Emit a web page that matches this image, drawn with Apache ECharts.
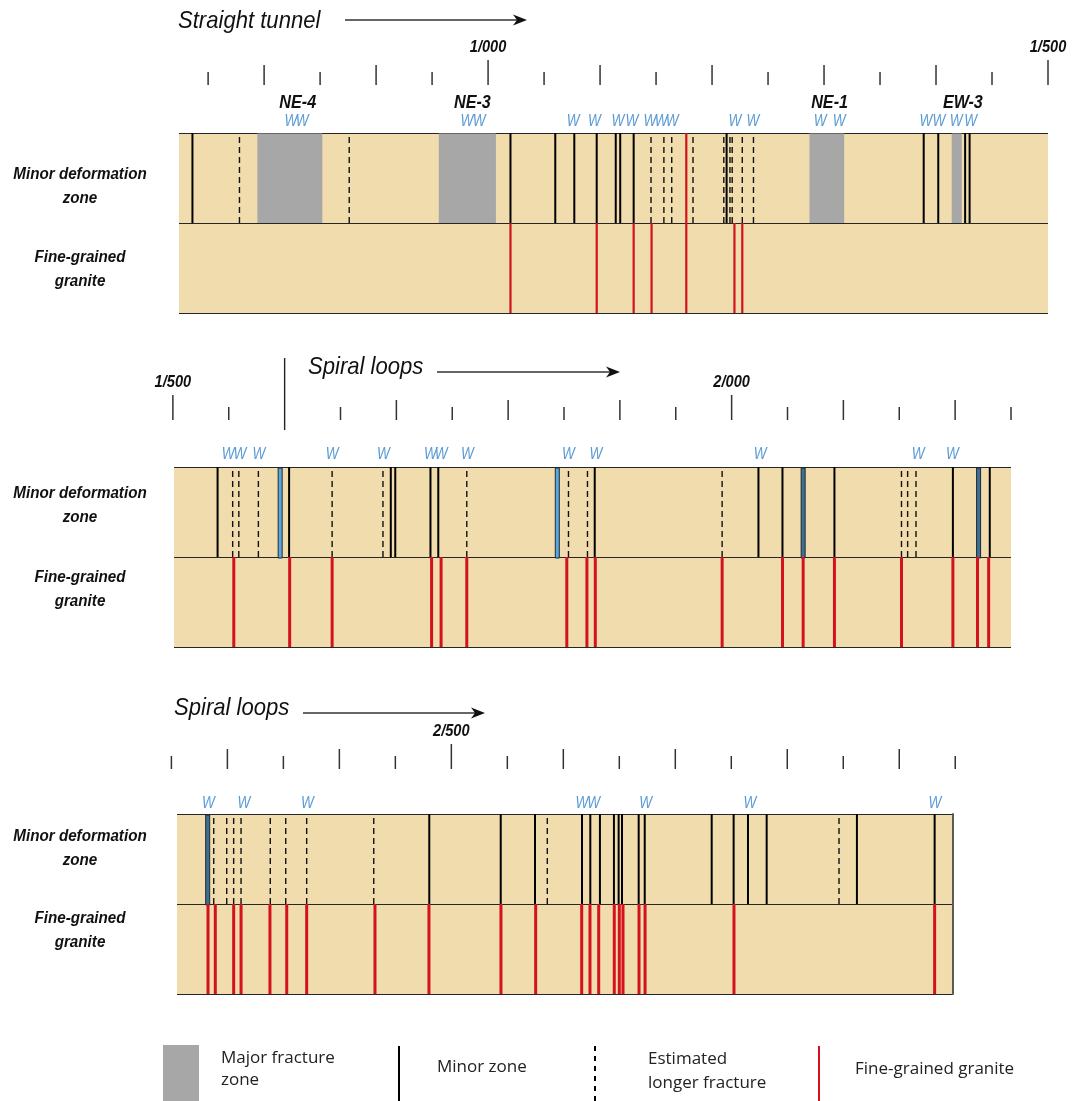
<!DOCTYPE html>
<html><head><meta charset="utf-8">
<script src="https://cdn.jsdelivr.net/npm/echarts@6/dist/echarts.min.js"></script>
<style>html,body{margin:0;padding:0;background:#fff}#c{width:1072px;height:1101px}</style>
</head><body><div id="c"></div>
<script>
// ---------- Panel 1 : Straight tunnel (chainage, m) ----------
const p1Range = [724, 1500];
const p1Ticks = [750, 800, 850, 900, 950, 1000, 1050, 1100, 1150, 1200, 1250, 1300, 1350, 1400, 1450, 1500];
const p1TickLabels = [1000, 1500];
const p1MajorNames = ['NE-4', 'NE-3', 'NE-1', 'EW-3'];
const p1MajorFrom = [794, 956, 1287, 1414];
const p1MajorTo = [852, 1007, 1318, 1423];
const p1MajorLabelAt = [830, 986, 1305, 1424];
const p1Minor = [736, 1020, 1060, 1077, 1097, 1114, 1118, 1130, 1213, 1389, 1402, 1426, 1430];
const p1Estimated = [778, 876, 1145.5, 1157, 1164, 1183, 1210.5, 1216, 1218, 1227, 1237];
const p1Granite = [1020, 1097, 1130, 1146, 1220, 1227];
const p1GraniteFull = [1177];
const p1BarsLight = [];
const p1BarsDark = [];
const p1W = [824, 834, 981, 992, 1076, 1095, 1116, 1128.5, 1144.5, 1154.5, 1164.5, 1220.5, 1236.5, 1296.5, 1313.5, 1391, 1402.5, 1418, 1431];
const p1Spiral = [];

// ---------- Panel 2 : Spiral loops ----------
const p2Range = [1501, 2250];
const p2Ticks = [1500, 1550, 1600, 1650, 1700, 1750, 1800, 1850, 1900, 1950, 2000, 2050, 2100, 2150, 2200, 2250];
const p2TickLabels = [1500, 2000];
const p2Spiral = [1600];
const p2Minor = [1540, 1604, 1695, 1699, 1730.5, 1737.5, 1877.5, 2024, 2045.5, 2092, 2198, 2231];
const p2Estimated = [1553.5, 1559, 1576.5, 1642.5, 1688, 1763, 1854, 1871, 1991.5, 2152, 2157.5, 2165];
const p2BarsLight = [1596, 1844];
const p2BarsDark = [2064, 2221];
const p2Granite = [1554.5, 1604.5, 1642.5, 1731.5, 1740, 1763, 1852.5, 1870.5, 1878, 1991.5, 2045.5, 2064, 2092, 2152, 2198, 2220, 2230];
const p2W = [1549.5, 1560, 1577, 1642.5, 1688.5, 1730.5, 1740, 1763.5, 1854, 1878.5, 2025.5, 2167, 2197.5];

// ---------- Panel 3 : Spiral loops ----------
const p3Range = [2255, 2948];
const p3Ticks = [2250, 2300, 2350, 2400, 2450, 2500, 2550, 2600, 2650, 2700, 2750, 2800, 2850, 2900, 2950];
const p3TickLabels = [2500];
const p3Spiral = [];
const p3Minor = [2480.3, 2544.1, 2574.7, 2616.7, 2624.1, 2632.7, 2645.2, 2649.4, 2652.4, 2667.3, 2672.7, 2732.5, 2752.1, 2764.9, 2781.6, 2862.2, 2931.6];
const p3Estimated = [2287.8, 2299.4, 2305.6, 2312.2, 2338.3, 2352.1, 2370.8, 2430.7, 2585.7, 2846.2];
const p3BarsLight = [];
const p3BarsDark = [2282.4];
const p3Granite = [2282.7, 2289.2, 2305.6, 2312.2, 2338, 2353, 2370.8, 2431.8, 2480, 2544.3, 2575.3, 2616.4, 2623.8, 2631.6, 2645.5, 2650, 2653.3, 2667.6, 2673, 2752.4, 2931.6];
const p3W = [2283, 2314.8, 2371.4, 2616.7, 2627, 2673.6, 2766.7, 2931.9];

// ---------- layout & styles ----------
const BG = '#F1DCAD';
const FONT = '"Liberation Sans", Arial, sans-serif';
const panels = [
  { grid: {left: 179, top: 133, width: 869, height: 180}, range: p1Range, ticks: p1Ticks, tickLabels: p1TickLabels, spiral: p1Spiral, tickOff: 48, wOff: 11,
    majorNames: p1MajorNames, majorFrom: p1MajorFrom, majorTo: p1MajorTo, majorLabelAt: p1MajorLabelAt,
    minor: p1Minor, est: p1Estimated, granite: p1Granite, graniteFull: p1GraniteFull, barsL: p1BarsLight, barsD: p1BarsDark, w: p1W, redW: 2.2, rightBorder: false },
  { grid: {left: 174, top: 467, width: 837, height: 180}, range: p2Range, ticks: p2Ticks, tickLabels: p2TickLabels, spiral: p2Spiral, tickOff: 47, wOff: 12,
    majorNames: [], majorFrom: [], majorTo: [], majorLabelAt: [],
    minor: p2Minor, est: p2Estimated, granite: p2Granite, graniteFull: [], barsL: p2BarsLight, barsD: p2BarsDark, w: p2W, redW: 3, rightBorder: false },
  { grid: {left: 177, top: 814, width: 776, height: 180}, range: p3Range, ticks: p3Ticks, tickLabels: p3TickLabels, spiral: p3Spiral, tickOff: 45, wOff: 10,
    majorNames: [], majorFrom: [], majorTo: [], majorLabelAt: [],
    minor: p3Minor, est: p3Estimated, granite: p3Granite, graniteFull: [], barsL: p3BarsLight, barsD: p3BarsDark, w: p3W, redW: 3, rightBorder: true }
];

function fmtChainage(v) { return Math.floor(v / 1000) + '/' + String(v % 1000).padStart(3, '0'); }

function base(gi, vals, z) {
  return { type: 'custom', xAxisIndex: gi, yAxisIndex: gi, clip: false, silent: true, z: z,
    data: vals.map(v => [v, 0]), encode: {x: 0, y: 1} };
}
function vLines(gi, vals, y0, y1, style, z) {
  const s = base(gi, vals, z);
  s.renderItem = (params, api) => {
    const x = api.value(0);
    const a = api.coord([x, y0]), b = api.coord([x, y1]);
    return { type: 'line', shape: {x1: a[0], y1: a[1], x2: b[0], y2: b[1]}, style: style };
  };
  return s;
}
function bars(gi, vals, fill, z) {
  const s = base(gi, vals, z);
  s.renderItem = (params, api) => {
    const a = api.coord([api.value(0), 2]), b = api.coord([api.value(0), 1]);
    return { type: 'rect', shape: {x: a[0] - 2, y: a[1] + 1, width: 4, height: b[1] - a[1]},
      style: {fill: fill, stroke: '#1d2a36', lineWidth: 1} };
  };
  return s;
}

const grids = [], xAxes = [], yAxes = [], series = [];
panels.forEach((p, gi) => {
  grids.push(Object.assign({show: true, backgroundColor: BG, borderWidth: 0}, p.grid));
  xAxes.push({type: 'value', gridIndex: gi, min: p.range[0], max: p.range[1], show: false});
  yAxes.push({type: 'value', gridIndex: gi, min: 0, max: 2, interval: 1, position: 'right',
    axisLabel: {show: false}, axisTick: {show: false},
    axisLine: {show: p.rightBorder, lineStyle: {color: '#5a5a5a', width: 2}},
    splitLine: {show: true, lineStyle: {color: '#262626', width: 1.2}}});

  // major fracture zones (grey blocks) + names
  const mz = base(gi, p.majorFrom, 2);
  mz.renderItem = (params, api) => {
    const i = params.dataIndex;
    const a = api.coord([p.majorFrom[i], 2]), b = api.coord([p.majorTo[i], 1]);
    return { type: 'rect', shape: {x: a[0], y: a[1] + 0.6, width: b[0] - a[0], height: b[1] - a[1] - 0.6}, style: {fill: '#A7A7A7'} };
  };
  series.push(mz);
  const ml = base(gi, p.majorLabelAt, 5);
  ml.renderItem = (params, api) => {
    const a = api.coord([api.value(0), 2]);
    return { type: 'text', x: a[0], y: a[1] - 30, scaleX: 0.9,
      style: {text: p.majorNames[params.dataIndex], fill: '#111', font: 'italic bold 18px ' + FONT, align: 'center', verticalAlign: 'middle'} };
  };
  series.push(ml);

  // estimated longer fractures (dashed), minor zones (solid)
  series.push(vLines(gi, p.est, 1, 2, {stroke: '#111', lineWidth: 1.4, lineDash: [6, 4]}, 3));
  series.push(vLines(gi, p.minor, 1, 2, {stroke: '#000', lineWidth: 2}, 4));
  series.push(bars(gi, p.barsL, '#5BA7DD', 4));
  series.push(bars(gi, p.barsD, '#3F6F93', 4));
  // fine-grained granite (red)
  series.push(vLines(gi, p.granite, 0, 1, {stroke: '#D3121E', lineWidth: p.redW}, 4));
  series.push(vLines(gi, p.graniteFull, 0, 2, {stroke: '#D3121E', lineWidth: p.redW}, 4));

  // W markers
  const ws = base(gi, p.w, 5);
  ws.renderItem = (params, api) => {
    const a = api.coord([api.value(0), 2]);
    return { type: 'text', x: a[0], y: a[1] - p.wOff, scaleX: 0.85,
      style: {text: 'W', fill: '#5B9BD5', font: 'italic 16px ' + FONT, align: 'center', verticalAlign: 'middle'} };
  };
  series.push(ws);

  // chainage ticks
  const tk = base(gi, p.ticks, 5);
  tk.renderItem = (params, api) => {
    const v = api.value(0);
    const a = api.coord([v, 2]);
    const yb = a[1] - p.tickOff;
    if (p.spiral.indexOf(v) >= 0) {
      return { type: 'line', shape: {x1: a[0], y1: yb + 10, x2: a[0], y2: yb - 62}, style: {stroke: '#222', lineWidth: 1.4} };
    }
    const len = v % 500 === 0 ? 25 : (v % 100 === 0 ? 20 : 13);
    return { type: 'line', shape: {x1: a[0], y1: yb, x2: a[0], y2: yb - len}, style: {stroke: '#333', lineWidth: 1.5} };
  };
  series.push(tk);
  const tl = base(gi, p.tickLabels, 5);
  tl.renderItem = (params, api) => {
    const v = api.value(0);
    const a = api.coord([v, 2]);
    return { type: 'text', x: a[0], y: a[1] - p.tickOff - 25 - 13, scaleX: 0.86,
      style: {text: fmtChainage(v), fill: '#111', font: 'italic bold 17px ' + FONT, align: 'center', verticalAlign: 'middle'} };
  };
  series.push(tl);
});

// ---------- decorations: titles, arrows, row names, legend ----------
function title(t, x, y) { return {type: 'text', x: x, y: y, scaleX: 0.92, style: {text: t, fill: '#111', font: 'italic 24px ' + FONT, align: 'left', verticalAlign: 'middle'}}; }
function arrow(x1, x2, y) {
  return [
    {type: 'line', shape: {x1: x1, y1: y, x2: x2 - 6, y2: y}, style: {stroke: '#333', lineWidth: 1.3}},
    {type: 'polygon', shape: {points: [[x2 - 14, y - 5.5], [x2, y], [x2 - 14, y + 5.5], [x2 - 10, y]]}, style: {fill: '#111'}}
  ];
}
function rowName(t, y) { return {type: 'text', x: 80, y: y, scaleX: 0.95, style: {text: t, fill: '#111', font: 'italic bold 16px ' + FONT, align: 'center', verticalAlign: 'middle', lineHeight: 24}}; }
const LF = '17px "Open Sans", "Noto Sans", sans-serif';
function legText(t, x, y, lh) { return {type: 'text', x: x, y: y, style: {text: t, fill: '#222', font: LF, align: 'left', verticalAlign: 'middle', lineHeight: lh || 22}}; }

const graphics = [].concat(
  [title('Straight tunnel', 178, 21)], arrow(345, 527, 20),
  [title('Spiral loops', 308, 367)], arrow(437, 620, 372),
  [title('Spiral loops', 174, 708)], arrow(303, 485, 713),
  [rowName('Minor deformation\nzone', 187), rowName('Fine-grained\ngranite', 270),
   rowName('Minor deformation\nzone', 506), rowName('Fine-grained\ngranite', 590),
   rowName('Minor deformation\nzone', 849), rowName('Fine-grained\ngranite', 931)],
  [
    {type: 'rect', shape: {x: 163, y: 1045, width: 36, height: 60}, style: {fill: '#A7A7A7'}},
    legText('Major fracture\nzone', 221, 1069),
    {type: 'line', shape: {x1: 399, y1: 1046, x2: 399, y2: 1101}, style: {stroke: '#000', lineWidth: 2}},
    legText('Minor zone', 437, 1067),
    {type: 'line', shape: {x1: 595, y1: 1046, x2: 595, y2: 1101}, style: {stroke: '#000', lineWidth: 2, lineDash: [5, 5]}},
    legText('Estimated\nlonger fracture', 648, 1071, 24),
    {type: 'line', shape: {x1: 819, y1: 1046, x2: 819, y2: 1101}, style: {stroke: '#D3121E', lineWidth: 2}},
    legText('Fine-grained granite', 855, 1069)
  ]
);

const chart = echarts.init(document.getElementById('c'));
chart.setOption({
  animation: false,
  backgroundColor: '#fff',
  grid: grids, xAxis: xAxes, yAxis: yAxes, series: series,
  graphic: {elements: graphics}
});
</script></body></html>
